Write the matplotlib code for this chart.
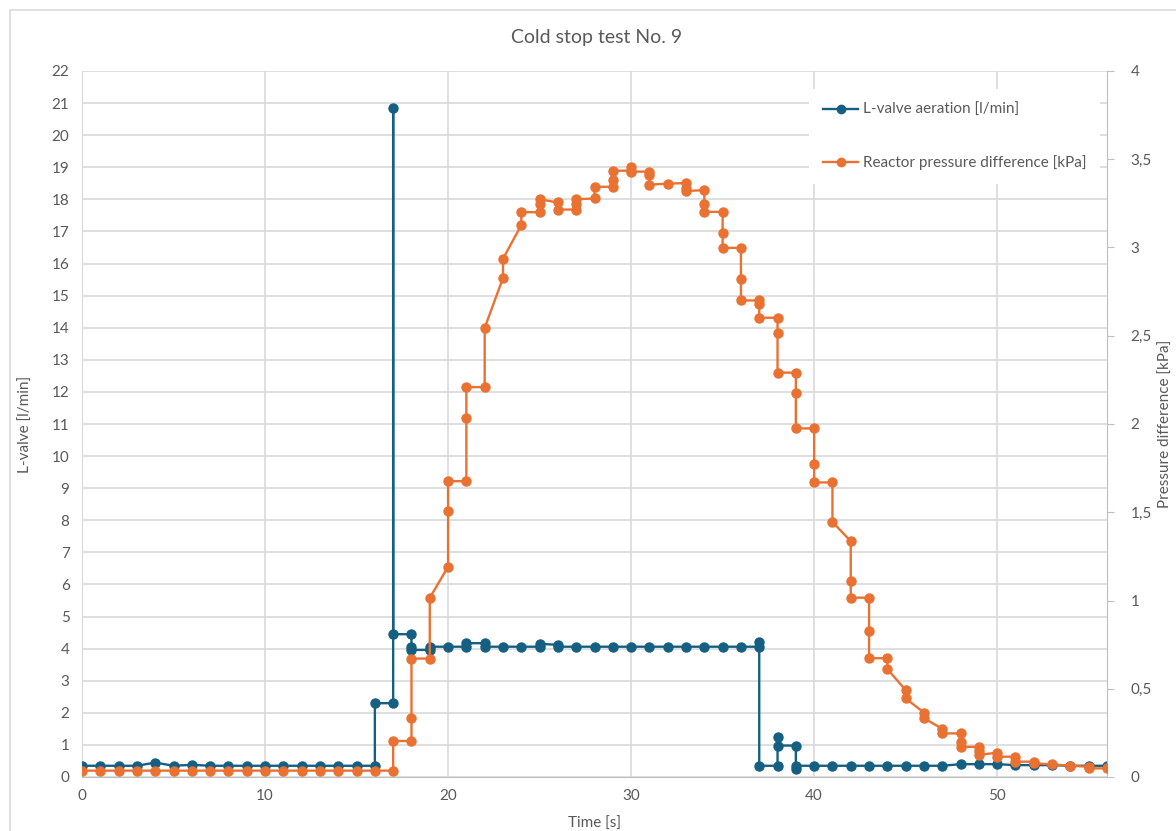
import matplotlib
matplotlib.use("Agg")
import matplotlib.pyplot as plt
from matplotlib.patches import Rectangle
from matplotlib.ticker import FuncFormatter

# L-valve aeration [l/min]
blue_t = [0, 1, 2, 3, 4, 5, 6, 7, 8, 9, 10, 11, 12, 13, 14, 15,
          16, 16, 17, 17, 17, 18, 18, 18, 19, 19, 20, 21, 21, 22, 22,
          23, 24, 25, 25, 26, 26, 27, 28, 29, 30, 31, 32, 33, 34, 35, 36,
          37, 37, 37, 38, 38, 38, 39, 39, 39,
          40, 41, 42, 43, 44, 45, 46, 47, 48, 49, 50, 51, 52, 53, 54, 55, 56]
blue_v = [0.35, 0.35, 0.35, 0.35, 0.45, 0.35, 0.38, 0.35, 0.35, 0.35, 0.35, 0.35, 0.35, 0.35, 0.35, 0.35,
          0.35, 2.3, 2.3, 20.85, 4.45, 4.45, 4.06, 3.96, 3.96, 4.06, 4.06, 4.06, 4.17, 4.17, 4.06,
          4.06, 4.06, 4.06, 4.15, 4.12, 4.06, 4.06, 4.06, 4.06, 4.06, 4.06, 4.06, 4.06, 4.06, 4.06, 4.06,
          4.06, 4.2, 0.35, 0.35, 1.24, 0.98, 0.98, 0.25, 0.35,
          0.35, 0.35, 0.35, 0.35, 0.35, 0.35, 0.35, 0.35, 0.4, 0.4, 0.4, 0.37, 0.37, 0.37, 0.35, 0.35, 0.35]

# Reactor pressure difference [kPa]
orange_t = [0, 1, 2, 3, 4, 5, 6, 7, 8, 9, 10, 11, 12, 13, 14, 15, 16,
            17, 17, 18, 18, 18, 19, 19, 20, 20, 20, 21, 21, 21, 22, 22,
            23, 23, 24, 24, 25, 25, 25, 26, 26, 27, 27, 27, 28, 28,
            29, 29, 29, 30, 30, 30, 31, 31, 31, 32, 33, 33, 33,
            34, 34, 34, 35, 35, 35, 36, 36, 36, 37, 37, 37, 38, 38, 38,
            39, 39, 39, 40, 40, 40, 41, 41, 42, 42, 42, 43, 43, 43, 44, 44,
            45, 45, 46, 46, 47, 47, 48, 48, 48, 49, 49, 49, 50, 50,
            51, 51, 52, 52, 53, 54, 55, 55, 56]
orange_v = [0.036, 0.036, 0.036, 0.036, 0.036, 0.036, 0.036, 0.036, 0.036, 0.036, 0.036, 0.036,
            0.036, 0.036, 0.036, 0.036, 0.036,
            0.036, 0.204, 0.204, 0.336, 0.671, 0.671, 1.015, 1.191, 1.509, 1.676, 1.676, 2.036, 2.209,
            2.209, 2.545,
            2.827, 2.936, 3.127, 3.20, 3.20, 3.245, 3.273, 3.255, 3.215, 3.215, 3.245, 3.273, 3.278, 3.344,
            3.344, 3.382, 3.435, 3.435, 3.456, 3.43, 3.43, 3.41, 3.356, 3.362, 3.365, 3.338, 3.32,
            3.325, 3.249, 3.202, 3.202, 3.08, 2.998, 2.998, 2.824, 2.70, 2.70, 2.682, 2.602,
            2.602, 2.518, 2.291,
            2.291, 2.173, 1.975, 1.975, 1.776, 1.669, 1.669, 1.445, 1.336, 1.113, 1.016,
            1.016, 0.829, 0.673, 0.673, 0.611,
            0.493, 0.445, 0.365, 0.333, 0.273, 0.247, 0.247, 0.2, 0.171, 0.171, 0.145, 0.125, 0.138, 0.115,
            0.115, 0.087, 0.087, 0.078, 0.071, 0.064, 0.058, 0.049, 0.049]

BLUE = "#156082"
ORANGE = "#E97132"
GRID = "#d9d9d9"
TXT = "#595959"

plt.rcParams["font.family"] = ["Lato", "DejaVu Sans"]

fig = plt.figure(figsize=(11.76, 8.31), dpi=100)
fig.patches.append(Rectangle((10 / 1176, -0.1), 1.2, 1.1 - 10 / 831, transform=fig.transFigure,
                             facecolor="white", edgecolor=GRID, linewidth=1.2, zorder=-10))

ax = fig.add_axes([82 / 1176, 54 / 831, 1025 / 1176, 706 / 831])
ax.set_facecolor("none")
ax2 = ax.twinx()

l1, = ax.plot(blue_t, blue_v, color=BLUE, lw=1.7, marker="o", ms=6.5,
              label="L-valve aeration [l/min]", zorder=3)
l2, = ax2.plot(orange_t, orange_v, color=ORANGE, lw=1.7, marker="o", ms=6.5,
               label="Reactor pressure difference [kPa]", zorder=3)

ax.set_xlim(0, 56)
ax.set_ylim(0, 22)
ax2.set_ylim(0, 4)
ax.set_xticks(range(0, 51, 10))
ax.set_yticks(range(0, 23))
ax2.set_yticks([i * 0.5 for i in range(9)])
ax2.yaxis.set_major_formatter(FuncFormatter(lambda v, p: f"{v:g}".replace(".", ",")))

ax.grid(True, color=GRID, lw=1.2)
ax.set_axisbelow(True)

for a in (ax, ax2):
    for s in ("top", "left", "right", "bottom"):
        a.spines[s].set_visible(False)
ax.spines["bottom"].set_visible(True)
ax.spines["bottom"].set_color("#bfbfbf")
ax.spines["left"].set_visible(True)
ax.spines["left"].set_color(GRID)
ax2.spines["right"].set_visible(True)
ax2.spines["right"].set_color("#bfbfbf")

ax.tick_params(axis="both", length=0, labelsize=11, labelcolor=TXT, pad=9)
ax2.tick_params(axis="y", length=5, color="#bfbfbf", labelsize=11, labelcolor=TXT, pad=12)

ax.set_xlabel("Time [s]", fontsize=11, color=TXT)
ax.xaxis.set_label_coords(0.5, -0.057)
ax.set_ylabel("L-valve [l/min]", fontsize=11, color=TXT)
ax.yaxis.set_label_coords(-0.048, 0.5)
ax2.set_ylabel("Pressure difference [kPa]", fontsize=11, color=TXT, rotation=90)
ax2.yaxis.set_label_coords(1.051, 0.5)

fig.text(597 / 1176, 1 - 38 / 831, "Cold stop test No. 9", ha="center", va="center",
         fontsize=14, color=TXT)

leg = ax2.legend(handles=[l1, l2], loc="upper left", bbox_to_anchor=(0.702, 0.985),
                 fontsize=11, labelspacing=2.5, handlelength=2.3, handletextpad=0.3,
                 borderpad=0.9, frameon=True, facecolor="white", edgecolor="none", framealpha=1)
for t in leg.get_texts():
    t.set_color(TXT)
for h in leg.legend_handles:
    h.set_markersize(6)

fig.savefig("out.png", dpi=100)
